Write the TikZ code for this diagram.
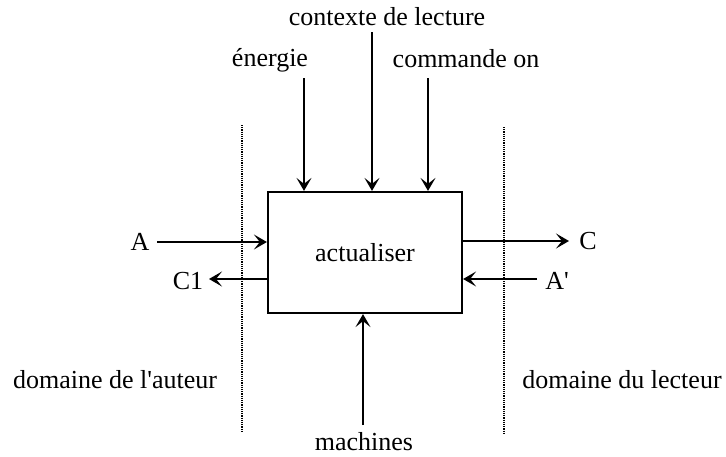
\documentclass[tikz,border=0pt]{standalone}
\usepackage{fontspec}
\setmainfont{Liberation Serif}
\usetikzlibrary{arrows.meta}
\tikzset{
  lbl/.style={font=\fontsize{26}{30}\selectfont, inner sep=0pt},
  flow/.style={line width=2.2pt, -{Stealth[length=13pt,width=15pt,inset=6pt]}},
  bound/.style={line width=1.6pt, dash pattern=on 1.2pt off 1pt},
  box/.style={draw, line width=2.2pt, minimum width=194pt, minimum height=121pt, inner sep=0pt}
}
\begin{document}
\begin{tikzpicture}[x=1pt,y=-1pt]
\useasboundingbox (0,0) rectangle (726,456);
\node[box,lbl] (act) at (365,252.5) {actualiser};
% boundaries
\coordinate (lt) at (242,125); \coordinate (lb) at (242,433);
\coordinate (rt) at (504,127); \coordinate (rb) at (504,435);
\draw[bound] (lt) -- (lb);
\draw[bound] (rt) -- (rb);
% labels
\node[lbl] (ctx) at (387,17) {contexte de lecture};
\node[lbl] (ene) at (270,60) {énergie};
\node[lbl] (cmd) at (466,59) {commande on};
\node[lbl] (mac) at (364,442) {machines};
\node[lbl] (la) at (140,242) {A};
\node[lbl] (lc1) at (188,281) {C1};
\node[lbl] (lc) at (588,241) {C};
\node[lbl] (lap) at (557,281) {A\textquotesingle};
\node[lbl] (dau) at (115,380) {domaine de l\textquotesingle auteur};
\node[lbl] (dle) at (622,380) {domaine du lecteur};
% arrow ends
\coordinate (e1) at (304,78);
\coordinate (e2) at (372,32);
\coordinate (e3) at (428,78);
\coordinate (m1) at (363,425);
\coordinate (a1) at (157,242);
\coordinate (c1) at (209,279);
\coordinate (c0) at (569,241);
\coordinate (ap) at (537,279);
\draw[flow] (e1) -- (e1 |- act.north);
\draw[flow] (e2) -- (e2 |- act.north);
\draw[flow] (e3) -- (e3 |- act.north);
\draw[flow] (m1) -- (m1 |- act.south);
\draw[flow] (a1) -- (act.west |- a1);
\draw[flow] (act.west |- c1) -- (c1);
\draw[flow] (act.east |- c0) -- (c0);
\draw[flow] (ap) -- (act.east |- ap);
\end{tikzpicture}
\end{document}
